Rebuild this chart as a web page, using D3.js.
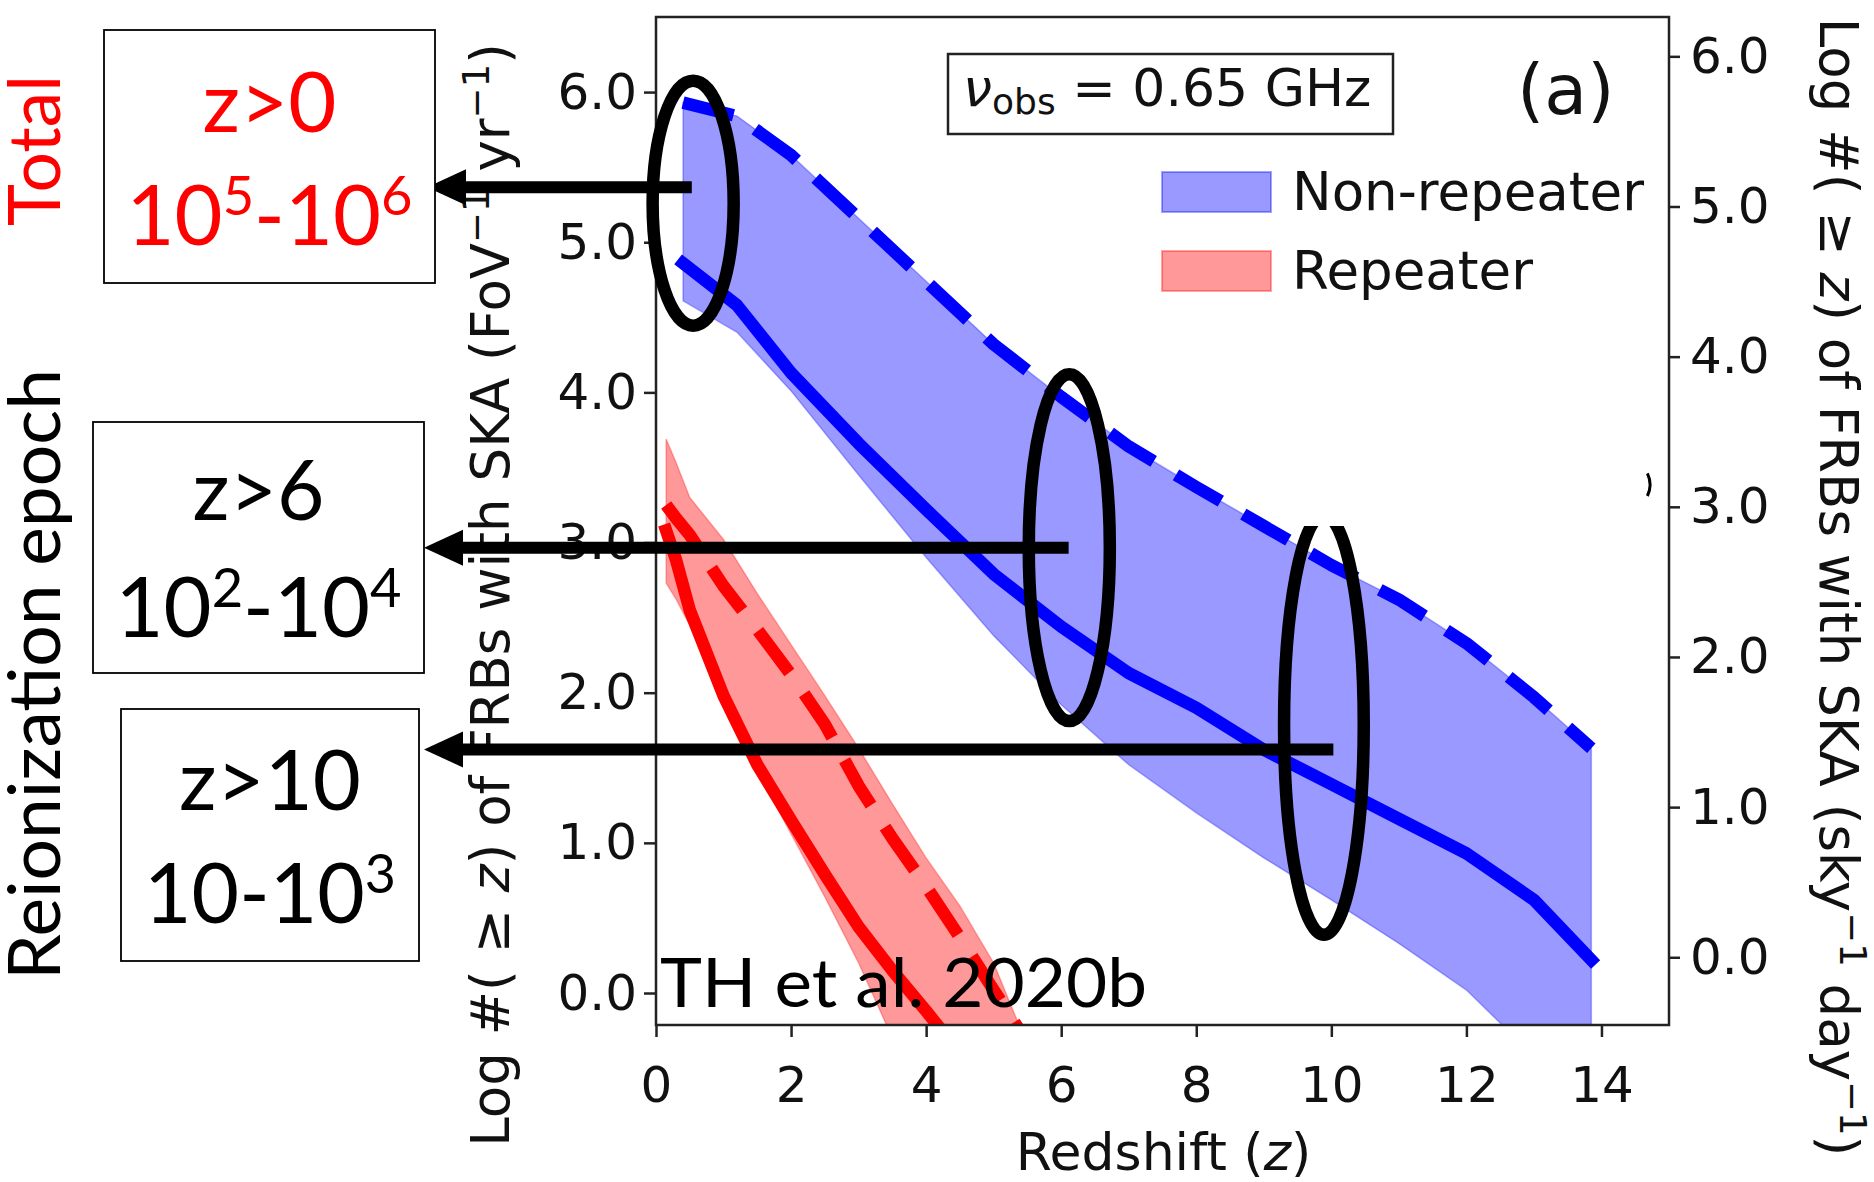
<!DOCTYPE html>
<html>
<head>
<meta charset="utf-8">
<script src="https://cdn.jsdelivr.net/npm/d3@7"></script>
<style>
  html, body { margin: 0; padding: 0; background: #fff; }
  svg { display: block; }
</style>
</head>
<body>
<svg id="chart" width="1874" height="1182"></svg>
<script>
// ---- data: cumulative log counts of FRBs above redshift z ----
const xTicks = [0, 2, 4, 6, 8, 10, 12, 14];
const yTicks = [0, 1, 2, 3, 4, 5, 6];

// non-repeating FRBs
const blueZ    = [0.4, 1.2, 2, 3, 4, 5, 6, 7, 8, 9, 10, 11, 12, 13, 13.85];
const blueHigh = [5.93, 5.84, 5.58, 5.16, 4.74, 4.32, 3.97, 3.64, 3.37, 3.11, 2.85, 2.62, 2.33, 1.97, 1.63];
const blueMid  = [4.86, 4.58, 4.13, 3.66, 3.22, 2.79, 2.44, 2.13, 1.90, 1.62, 1.39, 1.16, 0.93, 0.62, 0.22];
const blueLow  = [4.61, 4.40, 4.01, 3.45, 2.90, 2.38, 1.92, 1.52, 1.20, 0.90, 0.62, 0.33, 0.02, -0.42, -0.80];

// repeating FRBs
const redZ     = [0.15, 0.3, 0.5, 1, 1.5, 2, 2.5, 3, 3.5, 4, 4.5, 5, 5.5, 6];
const redHigh  = [3.69, 3.53, 3.30, 3.02, 2.66, 2.32, 1.98, 1.63, 1.26, 0.90, 0.58, 0.20, -0.35, -0.90];
const redDash  = [3.25, 3.16, 3.05, 2.71, 2.42, 2.12, 1.79, 1.38, 1.03, 0.71, 0.37, 0.02, -0.33, -0.70];
const redMid   = [3.08, 2.88, 2.55, 1.98, 1.52, 1.15, 0.79, 0.44, 0.15, -0.12, -0.40, -0.68, -0.96, -1.24];
const redLow   = [2.73, 2.62, 2.45, 1.95, 1.48, 1.06, 0.64, 0.20, -0.30, -0.80, -1.30, -1.80, -2.30, -2.80];

// highlighted redshift ranges (ellipses, in data units) and arrows to the summary boxes
const ellipses = [
  { z: 0.55, v: 5.26,  rz: 0.60, rv: 0.816 },
  { z: 6.12, v: 2.966, rz: 0.60, rv: 1.155 },
  { z: 9.89, v: 1.786, rz: 0.59, rv: 1.398, clipV: 3.11 }
];
const arrows = [
  { z: 0.53,  v: 5.366, tipX: 427 },
  { z: 6.11,  v: 2.965, tipX: 424 },
  { z: 10.03, v: 1.622, tipX: 424 }
];
const boxes = [
  { x: 104, y: 30,  w: 331, h: 253, color: "#ff0000",
    line1: [{ t: "z>0" }], len1: 134,
    line2: [{ t: "10" }, { t: "5", sup: true }, { t: "-10" }, { t: "6", sup: true }], len2: 286,
    b1: 132, b2: 245 },
  { x: 93,  y: 422, w: 331, h: 251, color: "#000000",
    line1: [{ t: "z>6" }], len1: 132,
    line2: [{ t: "10" }, { t: "2", sup: true }, { t: "-10" }, { t: "4", sup: true }], len2: 286,
    b1: 520, b2: 637 },
  { x: 121, y: 709, w: 298, h: 252, color: "#000000",
    line1: [{ t: "z>10" }], len1: 182,
    line2: [{ t: "10-10" }, { t: "3", sup: true }], len2: 252,
    b1: 810, b2: 923 }
];

// ---- layout ----
const W = 1874, H = 1182;
const P = { left: 656, right: 1669, top: 17, bottom: 1025 };
const RIGHT_OFFSET = 0.238;   // sky^-1 day^-1 axis relative to FoV^-1 yr^-1 axis

const x  = d3.scaleLinear().domain([0, 15]).range([P.left, P.right]);
const yL = d3.scaleLinear().domain([-0.213, 6.5]).range([P.bottom, P.top]);
const yR = d3.scaleLinear().domain([-0.213 - RIGHT_OFFSET, 6.5 - RIGHT_OFFSET]).range([P.bottom, P.top]);

const svg = d3.select("#chart");
svg.append("rect").attr("width", W).attr("height", H).attr("fill", "#fff");

const defs = svg.append("defs");
defs.append("clipPath").attr("id", "plotClip")
  .append("rect").attr("x", P.left).attr("y", P.top)
  .attr("width", P.right - P.left).attr("height", P.bottom - P.top);

const blue = blueZ.map((z, i) => ({ z, hi: blueHigh[i], mid: blueMid[i], lo: blueLow[i] }));
const red  = redZ.map((z, i) => ({ z, hi: redHigh[i], dash: redDash[i], mid: redMid[i], lo: redLow[i] }));

const data = svg.append("g").attr("clip-path", "url(#plotClip)");

const band = d3.area().x(d => x(d.z)).y0(d => yL(d.lo)).y1(d => yL(d.hi));
const lineOf = key => d3.line().x(d => x(d.z)).y(d => yL(d[key]));

data.append("path").datum(blue).attr("d", band)
  .attr("fill", "#0000ff").attr("fill-opacity", 0.4)
  .attr("stroke", "#0000ff").attr("stroke-opacity", 0.3).attr("stroke-width", 1.5);
data.append("path").datum(red).attr("d", band)
  .attr("fill", "#ff0000").attr("fill-opacity", 0.4)
  .attr("stroke", "#ff0000").attr("stroke-opacity", 0.3).attr("stroke-width", 1.5);

const LW = 12.5;
data.append("path").datum(blue).attr("d", lineOf("hi"))
  .attr("fill", "none").attr("stroke", "#0000ff").attr("stroke-width", LW)
  .attr("stroke-dasharray", "52 26").attr("stroke-linejoin", "round");
data.append("path").datum(blue).attr("d", lineOf("mid"))
  .attr("fill", "none").attr("stroke", "#0000ff").attr("stroke-width", LW)
  .attr("stroke-linecap", "square").attr("stroke-linejoin", "round");
data.append("path").datum(red).attr("d", lineOf("dash"))
  .attr("fill", "none").attr("stroke", "#ff0000").attr("stroke-width", LW)
  .attr("stroke-dasharray", "52 26").attr("stroke-linejoin", "round");
data.append("path").datum(red).attr("d", lineOf("mid"))
  .attr("fill", "none").attr("stroke", "#ff0000").attr("stroke-width", LW)
  .attr("stroke-linecap", "square").attr("stroke-linejoin", "round");

// ---- frame and axes ----
svg.append("rect")
  .attr("x", P.left).attr("y", P.top)
  .attr("width", P.right - P.left).attr("height", P.bottom - P.top)
  .attr("fill", "none").attr("stroke", "#222").attr("stroke-width", 2.5);

const TICK_FONT = "'DejaVu Sans', sans-serif";
function styleAxis(g) {
  g.select(".domain").remove();
  g.selectAll(".tick line").attr("stroke", "#222").attr("stroke-width", 2.5);
  g.selectAll(".tick text").attr("fill", "#111")
    .attr("font-family", TICK_FONT).attr("font-size", 50);
}

svg.append("g").attr("transform", `translate(0,${P.bottom})`)
  .call(d3.axisBottom(x).tickValues(xTicks).tickFormat(d3.format("d")).tickSize(12).tickPadding(29))
  .call(styleAxis);
svg.append("g").attr("transform", `translate(${P.left},0)`)
  .call(d3.axisLeft(yL).tickValues(yTicks).tickFormat(d3.format(".1f")).tickSize(12).tickPadding(7))
  .call(styleAxis);
svg.append("g").attr("transform", `translate(${P.right},0)`)
  .call(d3.axisRight(yR).tickValues(yTicks).tickFormat(d3.format(".1f")).tickSize(11).tickPadding(10))
  .call(styleAxis);

// rich text helper: parts with optional superscript / subscript / italic
function rich(textSel, parts, size, supSize, raise) {
  let shift = 0;
  parts.forEach(p => {
    const ts = textSel.append("tspan").text(p.t);
    let target = 0;
    if (p.sup) target = -raise;
    if (p.sub) target = raise * 0.4;
    if (target !== shift) { ts.attr("dy", target - shift); shift = target; }
    ts.attr("font-size", (p.sup || p.sub) ? supSize : size);
    if (p.it) ts.attr("font-style", "italic");
  });
  return textSel;
}

// axis titles
rich(svg.append("text")
  .attr("transform", `translate(${P.left + (P.right - P.left) / 2 + 1},1170)`)
  .attr("text-anchor", "middle").attr("font-family", TICK_FONT).attr("font-size", 52).attr("fill", "#111"),
  [{ t: "Redshift (" }, { t: "z", it: true }, { t: ")" }], 52, 36, 0);

const leftTitle = [{ t: "Log #( \u2265 " }, { t: "z", it: true }, { t: ") of FRBs with SKA (FoV" },
  { t: "\u22121", sup: true }, { t: " yr" }, { t: "\u22121", sup: true }, { t: ")" }];
const rightTitle = [{ t: "Log #( \u2265 " }, { t: "z", it: true }, { t: ") of FRBs with SKA (sky" },
  { t: "\u22121", sup: true }, { t: " day" }, { t: "\u22121", sup: true }, { t: ")" }];

rich(svg.append("text")
  .attr("transform", "translate(509,595) rotate(-90)")
  .attr("text-anchor", "middle").attr("font-family", TICK_FONT).attr("font-size", 53).attr("fill", "#111"),
  leftTitle, 53, 37, 20);
rich(svg.append("text")
  .attr("transform", "translate(1820,587) rotate(90)")
  .attr("text-anchor", "middle").attr("font-family", TICK_FONT).attr("font-size", 53).attr("fill", "#111"),
  rightTitle, 53, 37, 20);

// observing frequency label
svg.append("rect").attr("x", 948).attr("y", 54).attr("width", 445).attr("height", 80)
  .attr("fill", "#fff").attr("stroke", "#222").attr("stroke-width", 2.5);
rich(svg.append("text")
  .attr("x", 963).attr("y", 106)
  .attr("font-family", TICK_FONT).attr("font-size", 52).attr("fill", "#111"),
  [{ t: "\u03bd", it: true }, { t: "obs", sub: true }, { t: " = 0.65 GHz" }], 52, 36, 20);

svg.append("text").attr("x", 1517).attr("y", 114)
  .attr("font-family", TICK_FONT).attr("font-size", 70).attr("fill", "#111").text("(a)");

// legend
const legend = [
  { label: "Non-repeater", color: "#0000ff", y: 172 },
  { label: "Repeater",     color: "#ff0000", y: 251 }
];
legend.forEach(l => {
  svg.append("rect").attr("x", 1162).attr("y", l.y).attr("width", 109).attr("height", 40)
    .attr("fill", l.color).attr("fill-opacity", 0.4)
    .attr("stroke", l.color).attr("stroke-opacity", 0.35).attr("stroke-width", 2);
  svg.append("text").attr("x", 1292).attr("y", l.y + 38)
    .attr("font-family", TICK_FONT).attr("font-size", 53).attr("fill", "#111").text(l.label);
});

// citation
const NOTE_FONT = "Lato, 'Open Sans', sans-serif";
svg.append("text").attr("x", 660).attr("y", 1007)
  .attr("font-family", NOTE_FONT).attr("font-size", 67).attr("fill", "#000")
  .attr("textLength", 487).attr("lengthAdjust", "spacingAndGlyphs")
  .text("TH et al. 2020b");

// ---- annotations ----
ellipses.forEach((e, i) => {
  const el = svg.append("ellipse")
    .attr("cx", x(e.z)).attr("cy", yL(e.v))
    .attr("rx", x(e.z + e.rz) - x(e.z)).attr("ry", yL(e.v - e.rv) - yL(e.v))
    .attr("fill", "none").attr("stroke", "#000").attr("stroke-width", 12.5);
  if (e.clipV !== undefined) {
    defs.append("clipPath").attr("id", "ellClip" + i)
      .append("rect").attr("x", 0).attr("y", yL(e.clipV)).attr("width", W).attr("height", H);
    el.attr("clip-path", `url(#ellClip${i})`);
  }
});

arrows.forEach(a => {
  const yy = yL(a.v);
  svg.append("line")
    .attr("x1", a.tipX + 30).attr("x2", x(a.z)).attr("y1", yy).attr("y2", yy)
    .attr("stroke", "#000").attr("stroke-width", 12);
  svg.append("path")
    .attr("d", `M${a.tipX},${yy} L${a.tipX + 39},${yy - 18} L${a.tipX + 39},${yy + 18} Z`)
    .attr("fill", "#000");
});

// small stray arc near the right spine
svg.append("path")
  .attr("d", `M${x(14.68)},${yL(3.46)} Q${x(14.76)},${yL(3.385)} ${x(14.68)},${yL(3.31)}`)
  .attr("fill", "none").attr("stroke", "#000").attr("stroke-width", 3);

// summary boxes
boxes.forEach(b => {
  svg.append("rect").attr("x", b.x).attr("y", b.y).attr("width", b.w).attr("height", b.h)
    .attr("fill", "#fff").attr("stroke", "#000").attr("stroke-width", 1.8);
  const cx = b.x + b.w / 2;
  rich(svg.append("text").attr("x", cx).attr("y", b.b1).attr("text-anchor", "middle")
    .attr("font-family", NOTE_FONT).attr("fill", b.color)
    .attr("textLength", b.len1).attr("lengthAdjust", "spacingAndGlyphs"),
    b.line1, 84, 55, 30);
  rich(svg.append("text").attr("x", cx).attr("y", b.b2).attr("text-anchor", "middle")
    .attr("font-family", NOTE_FONT).attr("fill", b.color)
    .attr("textLength", b.len2).attr("lengthAdjust", "spacingAndGlyphs"),
    b.line2, 84, 55, 30);
});

// side labels
svg.append("text").attr("transform", "translate(60,150.5) rotate(-90)")
  .attr("text-anchor", "middle").attr("font-family", NOTE_FONT).attr("font-size", 72)
  .attr("fill", "#ff0000").attr("textLength", 151).attr("lengthAdjust", "spacingAndGlyphs")
  .text("Total");
svg.append("text").attr("transform", "translate(60,674.5) rotate(-90)")
  .attr("text-anchor", "middle").attr("font-family", NOTE_FONT).attr("font-size", 72)
  .attr("fill", "#000").attr("textLength", 611).attr("lengthAdjust", "spacingAndGlyphs")
  .text("Reionization epoch");
</script>
</body>
</html>
